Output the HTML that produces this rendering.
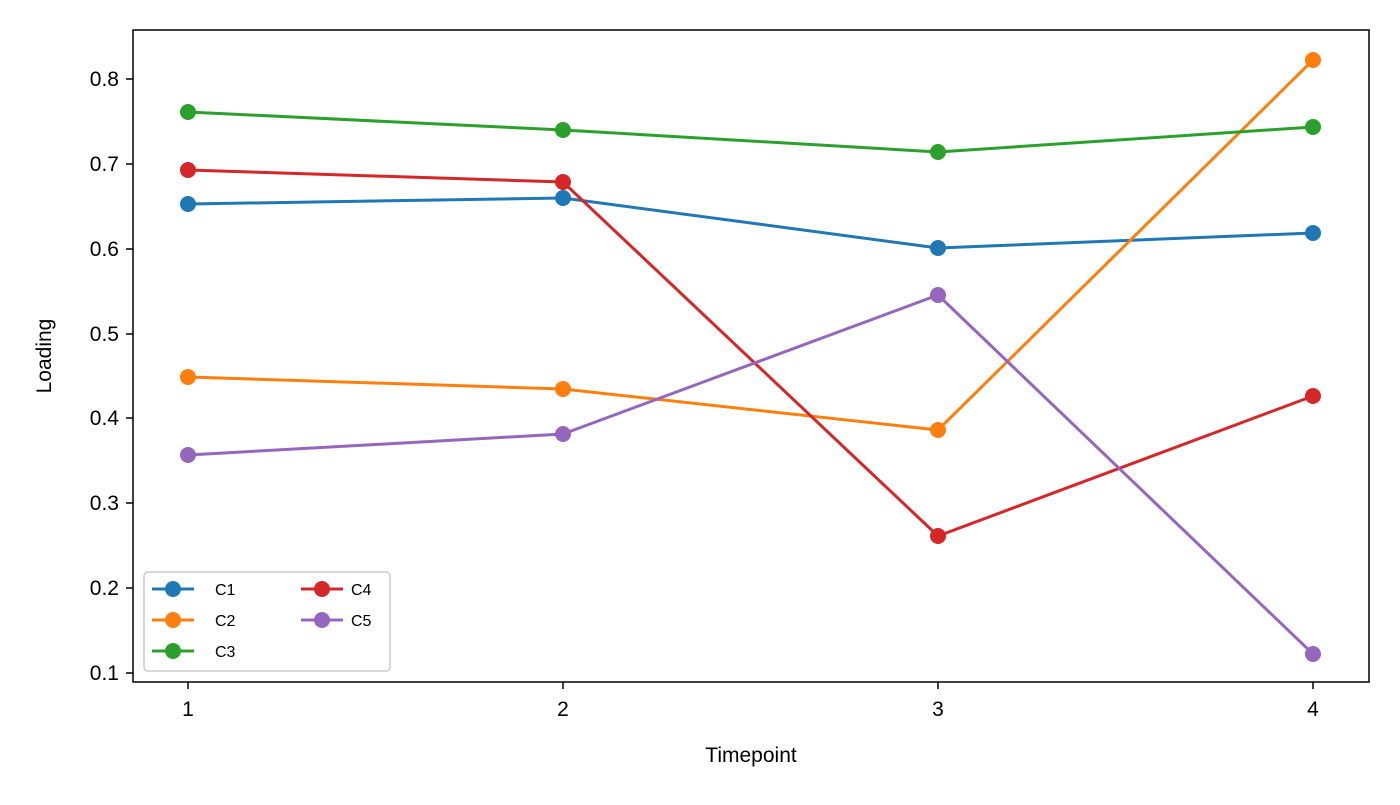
<!DOCTYPE html>
<html><head><meta charset="utf-8"><style>
html,body{margin:0;padding:0;background:#fff;}
svg text{font-family:"Liberation Sans","DejaVu Sans",sans-serif;fill:#000;}
</style></head><body>
<svg width="1400" height="800" xmlns="http://www.w3.org/2000/svg">
<rect width="1400" height="800" fill="#fff"/>
<g stroke="#000" stroke-width="1.5">
<line x1="188" y1="682" x2="188" y2="689"/><line x1="563" y1="682" x2="563" y2="689"/>
<line x1="938" y1="682" x2="938" y2="689"/><line x1="1313" y1="682" x2="1313" y2="689"/>
<line x1="126" y1="79" x2="133" y2="79"/><line x1="126" y1="164" x2="133" y2="164"/>
<line x1="126" y1="249" x2="133" y2="249"/><line x1="126" y1="334" x2="133" y2="334"/>
<line x1="126" y1="418" x2="133" y2="418"/><line x1="126" y1="503" x2="133" y2="503"/>
<line x1="126" y1="588" x2="133" y2="588"/><line x1="126" y1="673" x2="133" y2="673"/>
</g>
<g font-size="21" text-anchor="middle">
<text x="188" y="716">1</text><text x="563" y="716">2</text><text x="938" y="716">3</text><text x="1313" y="716">4</text>
</g>
<g font-size="21" text-anchor="end">
<text x="119" y="86">0.8</text><text x="119" y="171">0.7</text><text x="119" y="256">0.6</text>
<text x="119" y="341">0.5</text><text x="119" y="425">0.4</text><text x="119" y="510">0.3</text>
<text x="119" y="595">0.2</text><text x="119" y="680">0.1</text>
</g>
<text x="751" y="762" font-size="21" text-anchor="middle">Timepoint</text>
<text x="0" y="0" font-size="21" text-anchor="middle" transform="translate(51,356) rotate(-90)">Loading</text>
<g fill="none" stroke-width="3">
<polyline stroke="#1f77b4" points="188,204 563,198 938,248 1313,233"/>
<polyline stroke="#ff7f0e" points="188,377 563,389 938,430 1313,60"/>
<polyline stroke="#2ca02c" points="188,112 563,130 938,152 1313,127"/>
<polyline stroke="#d62728" points="188,170 563,182 938,536 1313,396"/>
<polyline stroke="#9467bd" points="188,455 563,434 938,295 1313,654"/>
</g>
<g fill="#1f77b4"><circle cx="188" cy="204" r="8"/><circle cx="563" cy="198" r="8"/><circle cx="938" cy="248" r="8"/><circle cx="1313" cy="233" r="8"/></g>
<g fill="#ff7f0e"><circle cx="188" cy="377" r="8"/><circle cx="563" cy="389" r="8"/><circle cx="938" cy="430" r="8"/><circle cx="1313" cy="60" r="8"/></g>
<g fill="#2ca02c"><circle cx="188" cy="112" r="8"/><circle cx="563" cy="130" r="8"/><circle cx="938" cy="152" r="8"/><circle cx="1313" cy="127" r="8"/></g>
<g fill="#d62728"><circle cx="188" cy="170" r="8"/><circle cx="563" cy="182" r="8"/><circle cx="938" cy="536" r="8"/><circle cx="1313" cy="396" r="8"/></g>
<g fill="#9467bd"><circle cx="188" cy="455" r="8"/><circle cx="563" cy="434" r="8"/><circle cx="938" cy="295" r="8"/><circle cx="1313" cy="654" r="8"/></g>
<rect x="133" y="30" width="1236" height="652" fill="none" stroke="#000" stroke-width="1.5"/>
<rect x="144" y="572" width="246" height="99" rx="4" fill="#fff" fill-opacity="0.8" stroke="#ccc" stroke-width="1.5"/>
<g stroke-width="3">
<line x1="152" y1="589" x2="194" y2="589" stroke="#1f77b4"/><circle cx="173" cy="589" r="8" fill="#1f77b4"/>
<line x1="152" y1="620" x2="194" y2="620" stroke="#ff7f0e"/><circle cx="173" cy="620" r="8" fill="#ff7f0e"/>
<line x1="152" y1="651" x2="194" y2="651" stroke="#2ca02c"/><circle cx="173" cy="651" r="8" fill="#2ca02c"/>
<line x1="301" y1="589" x2="343" y2="589" stroke="#d62728"/><circle cx="322" cy="589" r="8" fill="#d62728"/>
<line x1="301" y1="620" x2="343" y2="620" stroke="#9467bd"/><circle cx="322" cy="620" r="8" fill="#9467bd"/>
</g>
<g font-size="16">
<text x="215" y="595">C1</text><text x="215" y="626">C2</text><text x="215" y="657">C3</text>
<text x="351" y="595">C4</text><text x="351" y="626">C5</text>
</g>
</svg>
</body></html>
